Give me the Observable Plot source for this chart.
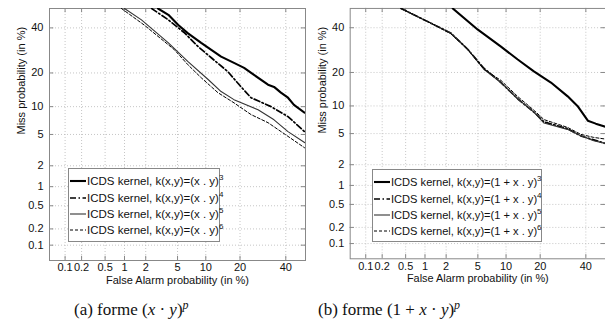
<!DOCTYPE html>
<html>
<head>
<meta charset="utf-8">
<script src="https://cdn.jsdelivr.net/npm/d3@7"></script>
<script src="https://cdn.jsdelivr.net/npm/@observablehq/plot@0.6"></script>
<style>
  html, body { margin: 0; padding: 0; background: #fff; }
  #root { position: relative; width: 605px; height: 325px; overflow: hidden; font-family: "Liberation Sans", Arial, sans-serif; }
  .panel { position: absolute; top: 0; }
  .legend { position: absolute; background: #fff; border: 1px solid #888; box-sizing: border-box; padding-top: 4px; }
  .row { display: flex; align-items: center; height: 16.4px; font-size: 11.5px; color: #111; white-space: nowrap; }
  .row svg { flex: none; margin-right: 1px; }
  .row sup { font-size: 8px; vertical-align: 5px; line-height: 0; }
  .cap { position: absolute; top: 300px; font-family: "Liberation Serif", "DejaVu Serif", serif; font-size: 17px; color: #111; white-space: nowrap; }
  .cap sup { font-size: 12px; vertical-align: 6px; line-height: 0; }
</style>
</head>
<body>
<div id="root"></div>
<script>
// ---- data (percent): [false alarm %, miss %] ----
const tickValues = [0.1, 0.2, 0.5, 1, 2, 5, 10, 20, 40];
const tickLabels = ["0.1", "0.2", "0.5", "1", "2", "5", "10", "20", "40"];
const domainPct = [0.05, 50];

// (a) forme (x . y)^p
const a3 = [[2.9,50],[3.9,46.7],[5.1,41.5],[6.5,37.4],[9.0,32.7],[11.3,29.5],[13.9,26.5],[17.9,23.9],[21.5,21.9],[25.4,19.3],[31.5,16.0],[34.3,15.3],[37.6,13.6],[41.1,12.2],[44.1,10.4],[49.5,8.7]];
const a4 = [[2.4,50],[3.9,44.1],[6.0,37.5],[8.35,31.0],[11.3,26.0],[15.9,20.5],[20.4,15.3],[24.2,12.2],[32.9,10.0],[41.1,7.9],[49.5,5.4]];
const a5 = [[1.0,50],[1.75,44.1],[3.9,32.7],[6.55,24.4],[10.6,17.6],[13.9,13.9],[17.9,11.7],[27.1,9.3],[34.3,7.3],[41.1,5.4],[49.5,4.0]];
const a6 = [[0.9,50],[1.9,41.5],[4.6,29.5],[6.55,23.1],[9.0,18.3],[13.0,13.6],[17.9,10.9],[24.2,8.3],[31.5,6.8],[41.1,4.75],[49.5,3.45]];

// (b) forme (1 + x . y)^p
const b3 = [[2.45,50],[5.0,39.0],[8.9,30.8],[12.9,25.1],[17.8,20.4],[24.1,16.5],[31.3,12.4],[35.9,10.0],[41.0,7.0],[45.0,6.5],[50,6.0]];
const b4 = [[0.42,50],[1.36,41.5],[2.3,37.4],[3.8,29.5],[5.85,21.6],[8.9,16.5],[12.95,11.7],[17.9,8.6],[21.4,6.8],[31.2,5.7],[37.5,4.7],[44,4.2],[50,3.8]];
const b5 = [[0.42,50],[1.36,41.5],[2.3,37.4],[3.8,29.5],[5.85,21.2],[8.9,16.5],[12.95,11.7],[17.9,8.6],[21.4,6.6],[31.2,5.6],[37.5,4.7],[44,4.1],[50,3.8]];
const b6 = [[0.42,50],[1.36,41.5],[2.3,37.0],[3.8,29.5],[5.85,21.2],[8.9,17.2],[12.95,12.3],[17.9,9.0],[21.4,7.2],[31.2,5.9],[37.5,4.9],[44,4.5],[50,4.3]];

const legendA = ["(x . y)", "(x . y)", "(x . y)", "(x . y)"];
const legendB = ["(1 + x . y)", "(1 + x . y)", "(1 + x . y)", "(1 + x . y)"];
const powers = [3, 4, 5, 6];

// ---- styles per series (p = 3,4,5,6) ----
const styles = [
  {stroke: "#000", strokeWidth: 2.1, strokeDasharray: null},
  {stroke: "#000", strokeWidth: 1.7, strokeDasharray: "6,2.5,1.5,2.5"},
  {stroke: "#333", strokeWidth: 1.1, strokeDasharray: null},
  {stroke: "#000", strokeWidth: 1.0, strokeDasharray: "3,2"}
];

// inverse normal CDF (Acklam)
function probit(p) {
  const a=[-3.969683028665376e+01,2.209460984245205e+02,-2.759285104469687e+02,1.383577518672690e+02,-3.066479806614716e+01,2.506628277459239e+00];
  const b=[-5.447609879822406e+01,1.615858368580409e+02,-1.556989798598866e+02,6.680131188771972e+01,-1.328068155288572e+01];
  const c=[-7.784894002430293e-03,-3.223964580411365e-01,-2.400758277161838e+00,-2.549732539343734e+00,4.374664141464968e+00,2.938163982698783e+00];
  const d=[7.784695709041462e-03,3.224671290700398e-01,2.445134137142996e+00,3.754408661907416e+00];
  const pl = 0.02425;
  if (p < pl) { const q = Math.sqrt(-2*Math.log(p)); return (((((c[0]*q+c[1])*q+c[2])*q+c[3])*q+c[4])*q+c[5])/((((d[0]*q+d[1])*q+d[2])*q+d[3])*q+1); }
  if (p <= 1 - pl) { const q = p - 0.5, r = q*q; return (((((a[0]*r+a[1])*r+a[2])*r+a[3])*r+a[4])*r+a[5])*q/(((((b[0]*r+b[1])*r+b[2])*r+b[3])*r+b[4])*r+1); }
  const q = Math.sqrt(-2*Math.log(1-p)); return -(((((c[0]*q+c[1])*q+c[2])*q+c[3])*q+c[4])*q+c[5])/((((d[0]*q+d[1])*q+d[2])*q+d[3])*q+1);
}
const pz = v => { const p = v / 100; return p >= 0.5 ? 0 : probit(p); };
const ticksZ = tickValues.map(pz);
const labelOf = z => { const i = ticksZ.findIndex(t => Math.abs(t - z) < 1e-9); return i < 0 ? "" : tickLabels[i]; };
const D = domainPct.map(pz);
const tk = 0.055;

function panel(series, left, width) {
  const marks = [
    Plot.gridX(ticksZ, {stroke: "#b8b8b8", strokeOpacity: 1, strokeWidth: 0.8, strokeDasharray: "1,2"}),
    Plot.gridY(ticksZ, {stroke: "#b8b8b8", strokeOpacity: 1, strokeWidth: 0.8, strokeDasharray: "1,2"}),
    Plot.ruleY(ticksZ, {y: d => d, x1: D[0], x2: D[0] + tk, stroke: "#888"}),
    Plot.ruleY(ticksZ, {y: d => d, x1: D[1] - tk, x2: D[1], stroke: "#888"}),
    Plot.ruleX(ticksZ, {x: d => d, y1: D[0], y2: D[0] + tk, stroke: "#888"}),
    Plot.ruleX(ticksZ, {x: d => d, y1: D[1] - tk, y2: D[1], stroke: "#888"}),
    Plot.frame({stroke: "#888", strokeWidth: 1}),
    Plot.axisX(ticksZ, {tickSize: 0, tickPadding: 3, tickFormat: labelOf, fontSize: 11, label: null, fill: "#111"}),
    Plot.axisY(ticksZ, {tickSize: 0, tickPadding: 6, tickFormat: labelOf, fontSize: 11, label: null, fill: "#111"}),
    Plot.text(["False Alarm probability (in %)"], {frameAnchor: "bottom", lineAnchor: "middle", dy: 19.5, fontSize: 11, fill: "#111"}),
    Plot.text(["Miss probability (in %)"], {frameAnchor: "left", lineAnchor: "middle", rotate: -90, dx: -28, fontSize: 11, fill: "#111"})
  ];
  series.forEach((s, i) => {
    const st = styles[i];
    const o = {x: d => pz(d[0]), y: d => pz(d[1]), stroke: st.stroke, strokeWidth: st.strokeWidth, clip: true, strokeLinejoin: "round"};
    if (st.strokeDasharray) o.strokeDasharray = st.strokeDasharray;
    marks.push(Plot.line(s, o));
  });
  const svg = Plot.plot({
    width, height: 290,
    marginTop: 8, marginBottom: 30, marginLeft: 49, marginRight: 0,
    x: {domain: D, axis: null},
    y: {domain: D, axis: null},
    style: {fontFamily: "Liberation Sans, Arial, sans-serif", fontSize: "11px", background: "transparent", overflow: "visible"},
    marks
  });
  const wrap = document.createElement("div");
  wrap.className = "panel";
  wrap.style.left = left + "px";
  wrap.appendChild(svg);
  document.getElementById("root").appendChild(wrap);
}

function legend(names, left, top, w, h, fs) {
  const box = document.createElement("div");
  box.className = "legend";
  Object.assign(box.style, {left: left + "px", top: top + "px", width: w + "px", height: h + "px"});
  names.forEach((n, i) => {
    const st = styles[i];
    const row = document.createElement("div");
    row.className = "row";
    row.style.fontSize = fs + "px";
    const dash = st.strokeDasharray ? ` stroke-dasharray="${st.strokeDasharray}"` : "";
    row.innerHTML = `<svg width="17" height="8"><line x1="1" y1="4" x2="17" y2="4" stroke="${st.stroke}" stroke-width="${st.strokeWidth}"${dash}/></svg>` +
      `<span>ICDS kernel, k(x,y)=${n}<sup>${powers[i]}</sup></span>`;
    box.appendChild(row);
  });
  document.getElementById("root").appendChild(box);
}

function caption(html, left) {
  const c = document.createElement("div");
  c.className = "cap";
  c.style.left = left + "px";
  c.innerHTML = html;
  document.getElementById("root").appendChild(c);
}

panel([a3, a4, a5, a6], 0, 305);
panel([b3, b4, b5, b6], 301, 306);
legend(legendA, 68, 168, 152, 74, 11.5);
legend(legendB, 372, 169, 170, 73, 11.1);
caption("(a) forme (<i>x</i> · <i>y</i>)<sup><i>p</i></sup>", 74);
caption("(b) forme (1 + <i>x</i> · <i>y</i>)<sup><i>p</i></sup>", 318);
</script>
</body>
</html>
